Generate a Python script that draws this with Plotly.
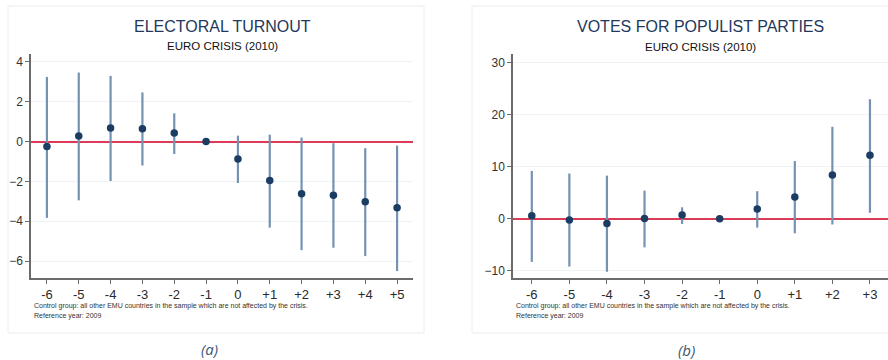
import plotly.graph_objects as go

W, H = 888, 360

# Event-time periods relative to the crisis
periods_a = [-6, -5, -4, -3, -2, -1, 0, 1, 2, 3, 4, 5]
labels_a = ["-6", "-5", "-4", "-3", "-2", "-1", "0", "+1", "+2", "+3", "+4", "+5"]
turnout_est = [-0.25, 0.28, 0.68, 0.65, 0.43, 0.0, -0.87, -1.95, -2.62, -2.70, -3.02, -3.32]
turnout_hi = [3.25, 3.47, 3.30, 2.47, 1.42, 0.0, 0.30, 0.35, 0.20, -0.08, -0.33, -0.20]
turnout_lo = [-3.83, -2.95, -1.98, -1.20, -0.62, 0.0, -2.08, -4.32, -5.45, -5.33, -5.75, -6.50]

periods_b = [-6, -5, -4, -3, -2, -1, 0, 1, 2, 3]
labels_b = ["-6", "-5", "-4", "-3", "-2", "-1", "0", "+1", "+2", "+3"]
populist_est = [0.6, -0.25, -0.9, 0.07, 0.7, 0.0, 1.87, 4.2, 8.4, 12.2]
populist_hi = [9.2, 8.7, 8.3, 5.4, 2.2, 0.0, 5.3, 11.1, 17.7, 23.0]
populist_lo = [-8.3, -9.2, -10.2, -5.5, -1.0, 0.0, -1.7, -2.8, -1.1, 1.15]

yticks_a = [-6, -4, -2, 0, 2, 4]
yticks_b = [-10, 0, 10, 20, 30]

NAVY = "#1c3d63"
CI = "#7592b2"
RED = "#dc3b58"
FONT = "Liberation Sans, Arial, sans-serif"


def px(x):
    return x / W


def py(y):
    return 1 - y / H


fig = go.Figure()


def add_panel(xa, ya, periods, est, hi, lo):
    fig.add_trace(go.Scatter(
        x=periods, y=est, mode="markers", xaxis=xa, yaxis=ya,
        marker=dict(size=7.5, color=NAVY),
        error_y=dict(type="data", symmetric=False,
                     array=[h - e for h, e in zip(hi, est)],
                     arrayminus=[e - l for e, l in zip(est, lo)],
                     width=0, thickness=2.2, color=CI),
        showlegend=False, hoverinfo="skip",
    ))


add_panel("x", "y", periods_a, turnout_est, turnout_hi, turnout_lo)
add_panel("x2", "y2", periods_b, populist_est, populist_hi, populist_lo)

axis_common = dict(
    showline=True, linecolor="#6b6b6b", linewidth=1.5,
    ticks="outside", ticklen=4, tickcolor="#6b6b6b",
    tickfont=dict(family=FONT, size=12, color="#333333"),
)
xtickfont = dict(family=FONT, size=13, color="#2a2a2a")

# The red reference line at zero is the y axis' zero line
yaxis_common = dict(showgrid=True, gridcolor="#eef3f6", gridwidth=1,
                    zeroline=True, zerolinecolor=RED, zerolinewidth=1.6,
                    **axis_common)

fig.update_layout(
    width=W, height=H,
    margin=dict(l=0, r=0, t=0, b=0),
    paper_bgcolor="white", plot_bgcolor="white",
    font=dict(family=FONT),
    xaxis=dict(domain=[px(31), px(413)], range=[-6.5, 5.5],
               tickvals=periods_a, ticktext=labels_a, showgrid=False,
               zeroline=False, anchor="y",
               **{**axis_common, "tickfont": xtickfont}),
    yaxis=dict(domain=[py(278), py(54)], range=[-6.85, 4.4],
               tickvals=yticks_a, anchor="x", **yaxis_common),
    xaxis2=dict(domain=[px(513), 1.0], range=[-6.5, 3.48],
                tickvals=periods_b, ticktext=labels_b, showgrid=False,
                zeroline=False, anchor="y2",
                **{**axis_common, "tickfont": xtickfont}),
    yaxis2=dict(domain=[py(278), py(54)], range=[-11.4, 31.7],
                tickvals=yticks_b, anchor="x2", **yaxis_common),
)

# Panel cards
for x0, x1 in [(8, 424), (472, 892)]:
    fig.add_shape(type="rect", xref="paper", yref="paper",
                  x0=px(x0), x1=px(x1), y0=py(333), y1=py(6),
                  line=dict(color="#ececec", width=1), fillcolor="rgba(0,0,0,0)",
                  layer="below")


def text(x, y, s, size, color, xanchor="center", italic=False):
    fig.add_annotation(
        x=px(x), y=py(y), xref="paper", yref="paper", text=s, showarrow=False,
        xanchor=xanchor, yanchor="middle",
        font=dict(family=FONT if not italic else "Open Sans, sans-serif",
                  size=size, color=color,
                  style="italic" if italic else "normal"),
    )


text(222, 27, "ELECTORAL TURNOUT", 16, "#22385c")
text(222, 46, "EURO CRISIS (2010)", 11.5, "#111111")
text(700, 27, "VOTES FOR POPULIST PARTIES", 16, "#22385c")
text(700, 47, "EURO CRISIS (2010)", 11.5, "#111111")

note1 = "Control group: all other EMU countries in the sample which are not affected by the crisis."
note2 = "Reference year: 2009"
text(32, 306, note1, 7, "#333333", xanchor="left")
text(32, 316, note2, 7, "#333333", xanchor="left")
text(514, 306, note1, 7, "#333333", xanchor="left")
text(514, 316, note2, 7, "#333333", xanchor="left")

text(209, 349, "(a)", 15, "#3d5878", italic=True)
text(686, 350, "(b)", 15, "#3d5878", italic=True)

fig.write_html("out.html")
